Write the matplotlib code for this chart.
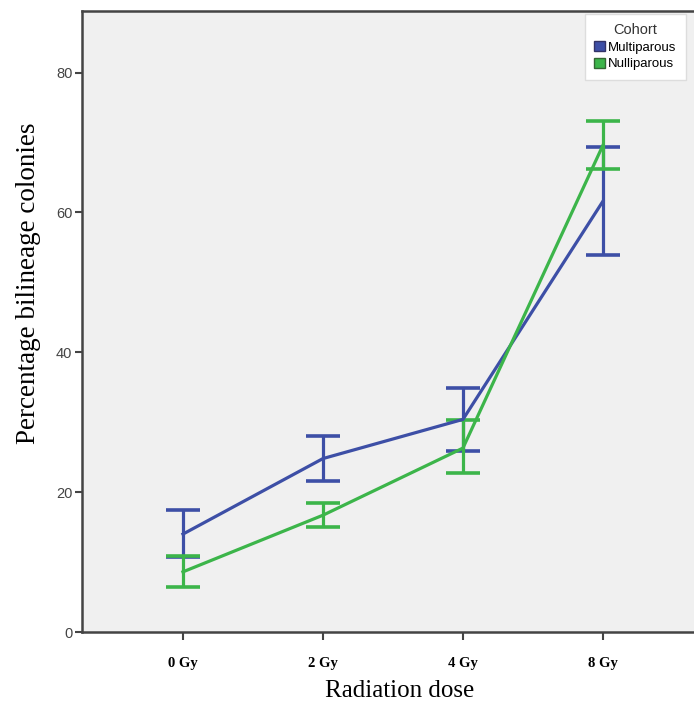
import matplotlib
matplotlib.use("Agg")
import matplotlib.pyplot as plt
from matplotlib.patches import Patch
import numpy as np

categories = ["0 Gy", "2 Gy", "4 Gy", "8 Gy"]
multi_mean = [14.0, 24.8, 30.4, 61.6]
multi_low = [10.7, 21.6, 25.9, 53.9]
multi_high = [17.4, 28.0, 34.9, 69.4]
nulli_mean = [8.6, 16.7, 26.3, 69.6]
nulli_low = [6.4, 15.0, 22.7, 66.2]
nulli_high = [10.8, 18.5, 30.3, 73.0]
y_ticks = [0, 20, 40, 60, 80]

blue = "#3d4fa6"
green = "#3cb54a"

fig = plt.figure(figsize=(6.94, 7.02), dpi=100)
ax_w_px = 694 - 82 + 14
ax = fig.add_axes([82/694, 1-632/702, ax_w_px/694, (632-11)/702])
ax.set_facecolor("#f0f0f0")

x = np.arange(len(categories))
for mean, lo, hi, col in [(multi_mean, multi_low, multi_high, blue),
                          (nulli_mean, nulli_low, nulli_high, green)]:
    m = np.array(mean); l = np.array(lo); h = np.array(hi)
    ax.errorbar(x, m, yerr=[m - l, h - m], color=col, lw=2.3,
                elinewidth=2.3, capsize=12, capthick=2.6)

ax.set_xlim(-0.721, -0.721 + ax_w_px/140)
ax.set_ylim(0, 88.8)
ax.set_xticks(x)
ax.set_xticklabels(categories, fontfamily="Liberation Serif", fontweight="bold", fontsize=10.5)
ax.set_yticks(y_ticks)
ax.set_yticklabels([str(v) for v in y_ticks], fontfamily="Liberation Sans", fontsize=10.5, color="#444444")
ax.tick_params(axis="y", length=5, width=1.5, color="#444444", pad=2)
ax.tick_params(axis="x", length=6, width=1.5, color="#444444", pad=12)

for s in ["left", "bottom", "top"]:
    ax.spines[s].set_color("#444444")
    ax.spines[s].set_linewidth(1.8)
ax.spines["right"].set_visible(False)

ax.set_xlabel("Radiation dose", fontfamily="Liberation Serif", fontsize=18)
ax.xaxis.set_label_coords((400-82)/ax_w_px, -0.078)
ax.set_ylabel("Percentage bilineage colonies", fontfamily="Liberation Serif", fontsize=19.5)
ax.yaxis.set_label_coords(-0.066, (632-283)/621)

handles = [Patch(facecolor=blue, edgecolor="#333366", label="Multiparous"),
           Patch(facecolor=green, edgecolor="#336633", label="Nulliparous")]
leg = fig.legend(handles=handles, title="Cohort", loc="upper left",
                 bbox_to_anchor=(585/694, 1-14/702), frameon=True,
                 prop={"family": "Liberation Sans", "size": 9.5},
                 title_fontproperties={"family": "Liberation Sans", "size": 10.5},
                 handlelength=0.8, handleheight=0.8, handletextpad=0.25,
                 labelspacing=0.3, borderpad=0.7, borderaxespad=0,
                 fancybox=False, framealpha=1)
leg.get_frame().set_facecolor("white")
leg.get_frame().set_edgecolor("#dddddd")
leg.get_title().set_color("#333333")

fig.savefig("out.png", dpi=100)
